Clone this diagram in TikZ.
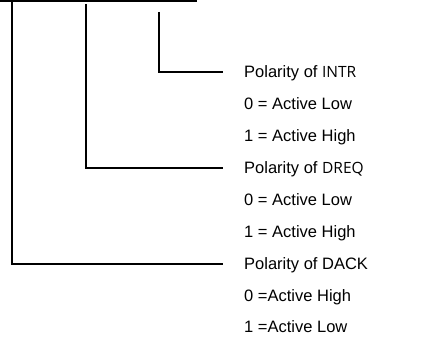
\documentclass[tikz,border=0pt]{standalone}
\usepackage{fontspec}
\setmainfont{Liberation Sans}
\newfontfamily\sigfont{Open Sans}
\begin{document}
\begin{tikzpicture}[x=1pt,y=-1pt,
  lbl/.style={anchor=west,inner sep=0pt,text height=11.8pt,text depth=0pt,
    font=\fontsize{16.5}{19}\selectfont},
  wire/.style={line width=1.3pt},
  bus/.style={line width=2pt}]
\useasboundingbox (0,0) rectangle (428,342);
\coordinate (b0) at (0,1);
\coordinate (b1) at (197,1);
\coordinate (a1) at (12,0);
\coordinate (a2) at (86,4);
\coordinate (a3) at (159,12);
\draw[bus] (b0) -- (b1);
\node[lbl] (intr) at (244,72) {Polarity of {\sigfont\fontsize{15.5}{18}\selectfont INTR}};
\node[lbl] (i0) at (244,104) {0 = Active Low};
\node[lbl] (i1) at (244,136) {1 = Active High};
\node[lbl] (dreq) at (244,168) {Polarity of {\sigfont\fontsize{15.5}{18}\selectfont DREQ}};
\node[lbl] (d0) at (244,200) {0 = Active Low};
\node[lbl] (d1) at (244,232) {1 = Active High};
\node[lbl] (dack) at (244,264) {Polarity of DACK};
\node[lbl] (k0) at (244,296) {0 =Active High};
\node[lbl] (k1) at (244,327) {1 =Active Low};
\draw[wire] (a3) |- ([xshift=-21pt]intr.west);
\draw[wire] (a2) |- ([xshift=-21pt]dreq.west);
\draw[wire] (a1) |- ([xshift=-21pt]dack.west);
\end{tikzpicture}
\end{document}
